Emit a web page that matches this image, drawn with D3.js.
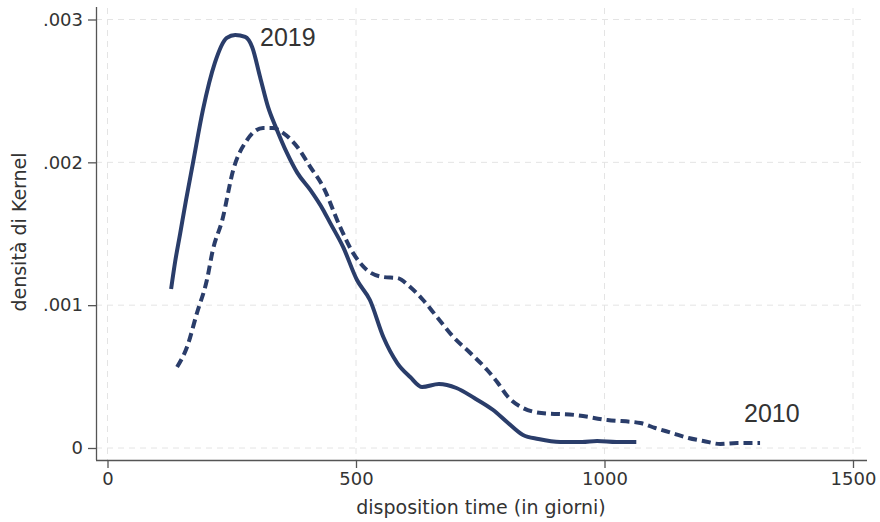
<!DOCTYPE html>
<html>
<head>
<meta charset="utf-8">
<script src="https://cdn.jsdelivr.net/npm/d3@7"></script>
<style>
  body { margin: 0; background: #fff; }
  text { font-family: "DejaVu Sans", sans-serif; fill: #333; }
</style>
</head>
<body>
<svg id="chart" width="880" height="522"></svg>
<script>
// Data ------------------------------------------
var xTicks = [0, 500, 1000, 1500];
var yTicks = [0, 0.001, 0.002, 0.003];
var yTickLabels = ["0", ".001", ".002", ".003"];

// 2019 kernel density (solid)
var days2019 = [128, 136, 146, 158, 172, 192, 216, 240, 257, 277, 291, 307, 323, 341, 361, 382, 408, 434, 448, 474, 502, 528, 555, 583, 609, 633, 667, 702, 738, 776, 806, 836, 867, 911, 955, 985, 1024, 1064];
var dens2019 = [1.113, 1.302, 1.498, 1.736, 1.996, 2.367, 2.696, 2.871, 2.892, 2.878, 2.808, 2.598, 2.388, 2.227, 2.066, 1.926, 1.807, 1.667, 1.576, 1.408, 1.176, 1.036, 0.777, 0.595, 0.497, 0.427, 0.448, 0.420, 0.350, 0.266, 0.175, 0.091, 0.063, 0.042, 0.042, 0.049, 0.042, 0.042];

// 2010 kernel density (dashed)
var days2010 = [140, 160, 180, 200, 212, 231, 253, 281, 313, 333, 353, 382, 408, 434, 468, 494, 522, 555, 583, 609, 635, 663, 696, 730, 764, 784, 806, 836, 873, 941, 1006, 1072, 1102, 1136, 1169, 1199, 1233, 1267, 1313];
var dens2010 = [0.567, 0.707, 0.945, 1.176, 1.387, 1.597, 1.947, 2.157, 2.241, 2.241, 2.206, 2.108, 1.968, 1.828, 1.548, 1.366, 1.246, 1.197, 1.190, 1.127, 1.036, 0.917, 0.777, 0.665, 0.546, 0.462, 0.357, 0.280, 0.245, 0.231, 0.196, 0.175, 0.140, 0.105, 0.070, 0.049, 0.028, 0.035, 0.035];

var svg = d3.select("#chart");
var lineColor = "#2a3d6a";

// Scales ----------------------------------------
var x = d3.scaleLinear().domain([0, 1500]).range([107.5, 853]);
var y = d3.scaleLinear().domain([0, 0.003]).range([448, 19.5]);

// Grid ------------------------------------------
svg.selectAll(".gx").data(xTicks).enter().append("line")
  .attr("x1", d => x(d)).attr("x2", d => x(d))
  .attr("y1", 8).attr("y2", 460)
  .attr("stroke", "#e4e4e4").attr("stroke-dasharray", "6,5");
svg.selectAll(".gy").data(yTicks).enter().append("line")
  .attr("x1", 96).attr("x2", 866)
  .attr("y1", d => y(d)).attr("y2", d => y(d))
  .attr("stroke", "#e4e4e4").attr("stroke-dasharray", "6,5");

// Axes ------------------------------------------
var xAxis = d3.axisBottom(x).tickValues(xTicks).tickSize(8).tickPadding(4).tickFormat(d3.format("d"));
var gx = svg.append("g").attr("transform", "translate(0,460)").call(xAxis);
gx.select(".domain").attr("d", "M96,0.5H867");

var yAxis = d3.axisLeft(y).tickValues(yTicks).tickSize(8).tickPadding(5)
  .tickFormat((d, i) => yTickLabels[i]);
var gy = svg.append("g").attr("transform", "translate(96,0)").call(yAxis);
gy.select(".domain").attr("d", "M0.5,7V460");

svg.selectAll(".domain, .tick line").attr("stroke", "#555").attr("stroke-width", 1.3);
svg.selectAll(".tick text").style("font-family", "DejaVu Sans").style("font-size", "18px").attr("fill", "#333");

// Titles ----------------------------------------
svg.append("text")
  .attr("x", 481).attr("y", 514)
  .attr("text-anchor", "middle")
  .style("font-size", "19px")
  .text("disposition time (in giorni)");

svg.append("text")
  .attr("transform", "translate(26,232) rotate(-90)")
  .attr("text-anchor", "middle")
  .style("font-size", "19px")
  .text("densità di Kernel");

// Lines -----------------------------------------
var line = d3.line()
  .x(d => x(d[0]))
  .y(d => y(d[1] / 1000))
  .curve(d3.curveMonotoneX);

svg.append("path")
  .datum(d3.zip(days2010, dens2010))
  .attr("d", line)
  .attr("fill", "none")
  .attr("stroke", lineColor)
  .attr("stroke-width", 4)
  .attr("stroke-dasharray", "9,5");

svg.append("path")
  .datum(d3.zip(days2019, dens2019))
  .attr("d", line)
  .attr("fill", "none")
  .attr("stroke", lineColor)
  .attr("stroke-width", 4)
  .attr("stroke-linejoin", "round");

// Labels ----------------------------------------
svg.append("text")
  .attr("x", 260).attr("y", 46)
  .style("font-family", "Liberation Sans, Arial, sans-serif")
  .style("font-size", "25px")
  .attr("fill", "#111")
  .text("2019");

svg.append("text")
  .attr("x", 744).attr("y", 422)
  .style("font-family", "Liberation Sans, Arial, sans-serif")
  .style("font-size", "25px")
  .attr("fill", "#111")
  .text("2010");
</script>
</body>
</html>
